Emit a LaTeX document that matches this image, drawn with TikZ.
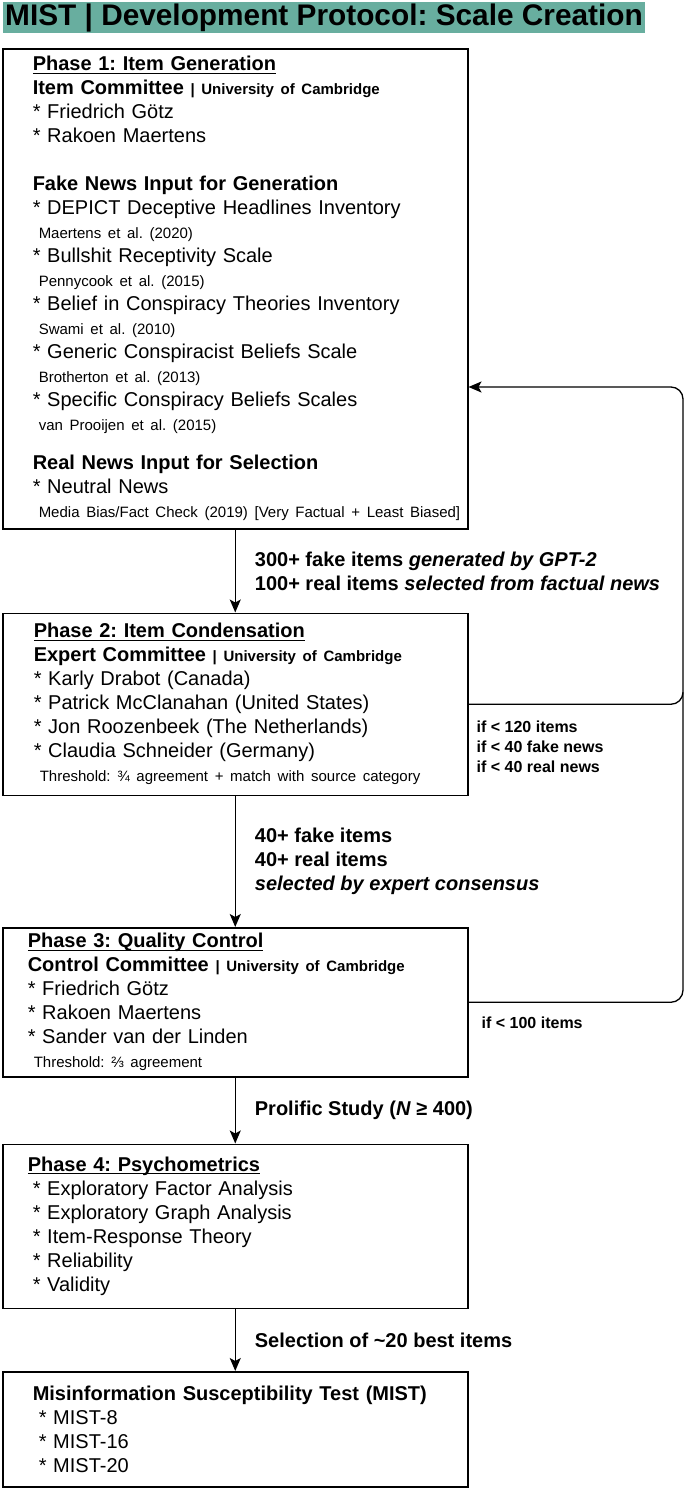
\documentclass[tikz,border=0pt]{standalone}
\usepackage{fontspec}
\setmainfont{Liberation Sans}
\usepackage{xcolor}
\usepackage{tikz}
\usetikzlibrary{
  positioning,
  calc,
  arrows.meta
}
\frenchspacing

\definecolor{titleteal}{RGB}{104,174,159}
\newcommand{\fsz}[1]{\fontsize{#1}{24}\selectfont}
\newcommand{\astx}{\mbox{*}}
\newcommand{\srcline}[1]{\hspace*{6pt}\mbox{\fsz{15}#1}}
\newcommand{\unibar}{{\fsz{15}\textbf{| University of Cambridge}}}
\newsavebox{\headbox}
\newcommand{\phasehead}[1]{\sbox{\headbox}{\textbf{#1}}%
  \rlap{\rule[-2.8pt]{\wd\headbox}{1.2pt}}\usebox{\headbox}}

\tikzset{
  phasebox/.style={draw, line width=1.5pt, align=left, inner ysep=0pt,
    inner xsep=#1, text width=465pt-2*#1, font=\fsz{20}},
  phasebox/.default=30pt,
  flow/.style={line width=1.3pt, -{Stealth[length=13pt,width=11pt,inset=3pt]}},
  arrowlabel/.style={right, inner sep=0pt, xshift=19pt, align=left,
    font=\fsz{20}\bfseries},
  sidenote/.style={inner sep=0pt, align=left, font=\fontsize{16}{20}\selectfont\bfseries}
}

\begin{document}
\begin{tikzpicture}[x=1pt,y=1pt]
  \useasboundingbox (0,0) rectangle (685,-1491);

  % Titel
  \node[fill=titleteal, anchor=north west, inner xsep=2pt, inner ysep=0pt,
    minimum height=31pt, font=\fontsize{29.8}{30}\selectfont\bfseries]
    (title) at (3,-2) {MIST | Development Protocol: Scale Creation};

  % Phase 1
  \node[phasebox, anchor=north west, minimum height=480pt] (p1) at (2,-48) {%
    \phasehead{Phase 1: Item Generation}\\
    \textbf{Item Committee} \unibar\\
    \astx{} Friedrich Götz\\
    \astx{} Rakoen Maertens\\[24pt]
    \textbf{Fake News Input for Generation}\\
    \astx{} DEPICT Deceptive Headlines Inventory\\
    \srcline{Maertens et al. (2020)}\\
    \astx{} Bullshit Receptivity Scale\\
    \srcline{Pennycook et al. (2015)}\\
    \astx{} Belief in Conspiracy Theories Inventory\\
    \srcline{Swami et al. (2010)}\\
    \astx{} Generic Conspiracist Beliefs Scale\\
    \srcline{Brotherton et al. (2013)}\\
    \astx{} Specific Conspiracy Beliefs Scales\\
    \srcline{van Prooijen et al. (2015)}\\[15pt]
    \textbf{Real News Input for Selection}\\
    \astx{} Neutral News\\
    \srcline{Media Bias/Fact Check (2019) [Very Factual + Least Biased]}};

  % Phase 2
  \node[phasebox=31pt, minimum height=182pt, below=83pt of p1] (p2) {%
    \phasehead{Phase 2: Item Condensation}\\
    \textbf{Expert Committee} \unibar\\
    \astx{} Karly Drabot (Canada)\\
    \astx{} Patrick McClanahan (United States)\\
    \astx{} Jon Roozenbeek (The Netherlands)\\
    \astx{} Claudia Schneider (Germany)\\
    \srcline{Threshold: ¾ agreement + match with source category}};

  % Phase 3
  \node[phasebox=25pt, minimum height=149pt, below=131pt of p2] (p3) {%
    \phasehead{Phase 3: Quality Control}\\
    \textbf{Control Committee} \unibar\\
    \astx{} Friedrich Götz\\
    \astx{} Rakoen Maertens\\
    \astx{} Sander van der Linden\\
    \srcline{Threshold: ⅔ agreement}};

  % Phase 4
  \node[phasebox=25pt, minimum height=164pt, below=66pt of p3] (p4) {%
    \phasehead{Phase 4: Psychometrics}\\
    \hspace*{5pt}\astx{} Exploratory Factor Analysis\\
    \hspace*{5pt}\astx{} Exploratory Graph Analysis\\
    \hspace*{5pt}\astx{} Item-Response Theory\\
    \hspace*{5pt}\astx{} Reliability\\
    \hspace*{5pt}\astx{} Validity};

  % Ergebnis
  \node[phasebox, minimum height=115pt, below=62pt of p4] (mist) {%
    \textbf{Misinformation Susceptibility Test (MIST)}\\
    \hspace*{6pt}\astx{} MIST-8\\
    \hspace*{6pt}\astx{} MIST-16\\
    \hspace*{6pt}\astx{} MIST-20};

  % Pfeile
  \draw[flow] (p1) -- node[arrowlabel] (gen) {300+ fake items \textit{generated by GPT-2}\\
    100+ real items \textit{selected from factual news}} (p2);
  \draw[flow] (p2) -- node[arrowlabel] (cons) {40+ fake items\\40+ real items\\
    \textit{selected by expert consensus}} (p3);
  \draw[flow] (p3) -- node[arrowlabel] (study) {Prolific Study (\textit{N} ≥ 400)} (p4);
  \draw[flow] (p4) -- node[arrowlabel] (sel) {Selection of \textasciitilde20 best items} (mist);

  % Rückführung
  \coordinate (loopin) at (p1.east |- 0,-387);
  \coordinate (loopr) at (683,-387);
  \draw[flow, rounded corners=12pt] (p2.east) -| (loopr) -- (loopin);
  \draw[line width=1.3pt, rounded corners=12pt] (p3.east) -| ($(p2.east -| loopr)+(0,12)$);
  \node[sidenote, anchor=west] (cond2) at ($(p2.east)+(8,-43)$)
    {if < 120 items\\if < 40 fake news\\if < 40 real news};
  \node[sidenote, anchor=west] (cond3) at ($(p3.east)+(13,-21)$) {if < 100 items};
\end{tikzpicture}
\end{document}
